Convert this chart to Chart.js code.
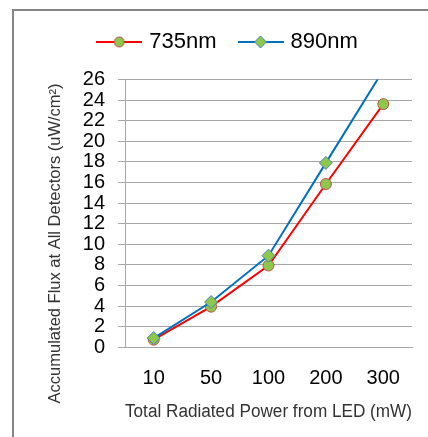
<!DOCTYPE html>
<html>
<head>
<meta charset="utf-8">
<script src="https://cdn.jsdelivr.net/npm/chart.js@4/dist/chart.umd.min.js"></script>
<style>
  html, body { margin: 0; padding: 0; background: #fff; }
  #wrap { position: relative; width: 428px; height: 437px; overflow: hidden; }
  #frame { position: absolute; left: 12px; top: 9px; width: 500px; height: 500px;
           border-left: 2px solid #858585; border-top: 2px solid #858585; }
  canvas { position: absolute; left: 0; top: 0; }
</style>
</head>
<body>
<div id="wrap">
  <div id="frame"></div>
  <canvas id="myChart" width="428" height="437"></canvas>
</div>
<script>
const powers = ['10', '50', '100', '200', '300'];
const flux735 = [0.75, 3.95, 7.95, 15.85, 23.6];
const flux890 = [0.9, 4.4, 8.9, 17.9, 26.9];
const yTicks = [0, 2, 4, 6, 8, 10, 12, 14, 16, 18, 20, 22, 24, 26];

const green = '#8CC84B';
const font = '"Liberation Sans", Arial, sans-serif';

// legend swatch: line with the marker on it
function swatch(lineColor, style, edge) {
  const c = document.createElement('canvas');
  c.width = 46; c.height = 14;
  const g = c.getContext('2d');
  g.strokeStyle = lineColor;
  g.lineWidth = 2;
  g.beginPath(); g.moveTo(0, 7); g.lineTo(46, 7); g.stroke();
  g.fillStyle = green;
  g.strokeStyle = edge;
  g.lineWidth = 1;
  g.beginPath();
  if (style === 'circle') {
    g.arc(23, 7, 5, 0, Math.PI * 2);
  } else {
    g.moveTo(23, 1); g.lineTo(29, 7); g.lineTo(23, 13); g.lineTo(17, 7); g.closePath();
  }
  g.fill(); g.stroke();
  return c;
}
const sw735 = swatch('#FF0000', 'circle', '#C0504D');
const sw890 = swatch('#0070C0', 'diamond', '#4F81BD');

const yTitle = {
  id: 'yTitle',
  afterDraw(chart) {
    const a = chart.chartArea;
    const g = chart.ctx;
    g.save();
    g.translate(55, (a.top + a.bottom) / 2 + 30);
    g.rotate(-Math.PI / 2);
    g.font = '16.5px ' + font;
    g.fillStyle = '#333';
    g.textAlign = 'center';
    g.textBaseline = 'middle';
    g.fillText('Accumulated Flux at All Detectors (uW/cm²)', 0, 0);
    g.restore();
  }
};

const ctx = document.getElementById('myChart');
new Chart(ctx, {
  type: 'line',
  data: {
    labels: powers,
    datasets: [{
      label: '735nm',
      data: flux735,
      borderColor: '#FF0000',
      borderWidth: 2,
      backgroundColor: green,
      pointStyle: 'circle',
      pointRadius: 5.5,
      pointBorderColor: '#C0504D',
      pointBorderWidth: 1,
      order: 1
    }, {
      label: '890nm',
      data: flux890,
      borderColor: '#0070C0',
      borderWidth: 2,
      backgroundColor: green,
      pointStyle: 'rectRot',
      pointRadius: 6.5,
      pointBorderColor: '#4F81BD',
      pointBorderWidth: 1,
      order: 0
    }]
  },
  options: {
    responsive: false,
    animation: false,
    layout: { padding: { top: 6, left: 46, right: 16, bottom: 14 } },
    plugins: {
      tooltip: { enabled: false },
      // empty spacer between the legend and the plot
      title: {
        display: true,
        text: '',
        weight: 500,
        font: { size: 2 },
        padding: { top: 0, bottom: 14 }
      },
      legend: {
        position: 'top',
        labels: {
          usePointStyle: true,
          pointStyleWidth: 38,
          padding: 25,
          color: '#000',
          font: { family: font, size: 22 },
          generateLabels: (chart) => chart.data.datasets.map((ds, i) => ({
            text: ds.label,
            pointStyle: i === 0 ? sw735 : sw890,
            datasetIndex: i,
            fillStyle: green,
            strokeStyle: ds.borderColor,
            lineWidth: 0,
            hidden: false
          }))
        }
      }
    },
    scales: {
      x: {
        offset: true,
        grid: { display: false, tickLength: 8 },
        border: { display: true, color: '#A6A6A6', width: 1 },
        ticks: {
          color: '#000',
          padding: 11,
          font: { family: font, size: 20 }
        },
        title: {
          display: true,
          text: 'Total Radiated Power from LED (mW)',
          color: '#333',
          padding: { top: 0, bottom: 0 },
          font: { family: font, size: 18 }
        }
      },
      y: {
        min: 0,
        max: 26,
        afterBuildTicks: (s) => { s.ticks = yTicks.map(v => ({ value: v })); },
        afterFit: (s) => { s.width = 79; },
        grid: { color: '#A6A6A6', lineWidth: 1, drawTicks: true, tickLength: 7 },
        border: { display: true, color: '#A6A6A6', width: 1 },
        ticks: {
          color: '#000',
          padding: 13,
          autoSkip: false,
          font: { family: font, size: 20 }
        }
      }
    }
  },
  plugins: [yTitle]
});
</script>
</body>
</html>
